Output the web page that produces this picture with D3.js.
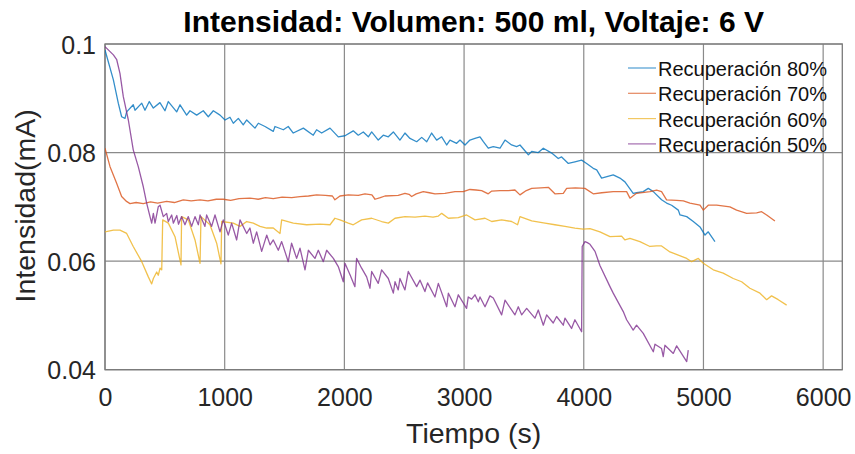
<!DOCTYPE html>
<html>
<head>
<meta charset="utf-8">
<script src="https://cdn.jsdelivr.net/npm/d3@7"></script>
<style>
  html, body { margin: 0; padding: 0; background: #fff; }
  svg { display: block; }
  text { font-family: "Liberation Sans", Arial, Helvetica, sans-serif; }
</style>
</head>
<body>
<svg id="chart" width="855" height="454"></svg>
<script>
// ---------------- DATA ----------------
const title = "Intensidad: Volumen: 500 ml, Voltaje: 6 V";
const xLabel = "Tiempo (s)";
const yLabel = "Intensidad(mA)";
const seriesNames = ["Recuperación 80%", "Recuperación 70%", "Recuperación 60%", "Recuperación 50%"];
const xTicks = [0, 1000, 2000, 3000, 4000, 5000, 6000];
const xTickLabels = ["0", "1000", "2000", "3000", "4000", "5000", "6000"];
const yTicks = [0.04, 0.06, 0.08, 0.1];
const yTickLabels = ["0.04", "0.06", "0.08", "0.1"];

// Recuperación 80%
const t80 = [0,70,111,139,167,181,236,251,307,334,370,404,459,501,529,599,627,682,710,766,821,863,905,961,1003,1044,1072,1114,1155,1184,1253,1281,1337,1406,1420,1490,1531,1573,1657,1740,1768,1810,1880,1949,2005,2074,2116,2158,2200,2228,2283,2325,2367,2409,2464,2506,2548,2604,2646,2688,2729,2771,2813,2855,2882,2938,2966,3008,3049,3091,3133,3161,3202,3244,3300,3342,3397,3439,3467,3537,3565,3620,3662,3732,3787,3815,3871,3926,3982,4024,4079,4108,4149,4246,4302,4344,4413,4441,4497,4539,4581,4650,4692,4734,4790,4804,4860,4915,4971,5013,5040,5096];
const v80 = [0.0989,0.0934,0.0891,0.0866,0.0863,0.0875,0.0888,0.0878,0.0891,0.0878,0.0894,0.0882,0.0892,0.0877,0.0894,0.0875,0.0888,0.0869,0.0877,0.0869,0.0877,0.0866,0.0877,0.0869,0.0860,0.0865,0.0854,0.0863,0.0851,0.0860,0.0845,0.0854,0.0848,0.0839,0.0848,0.0842,0.0848,0.0836,0.0845,0.0832,0.0842,0.0836,0.0845,0.0829,0.0831,0.0840,0.0832,0.0838,0.0829,0.0838,0.0823,0.0832,0.0829,0.0838,0.0823,0.0836,0.0826,0.0820,0.0828,0.0820,0.0836,0.0823,0.0829,0.0814,0.0823,0.0817,0.0823,0.0814,0.0823,0.0826,0.0829,0.0820,0.0808,0.0811,0.0808,0.0823,0.0814,0.0811,0.0814,0.0796,0.0802,0.0800,0.0808,0.0799,0.0789,0.0792,0.0780,0.0783,0.0786,0.0780,0.0771,0.0768,0.0753,0.0759,0.0753,0.0746,0.0725,0.0726,0.0728,0.0734,0.0728,0.0713,0.0707,0.0703,0.0694,0.0685,0.0682,0.0673,0.0663,0.0648,0.0654,0.0636];

// Recuperación 70%
const t70 = [0,42,98,139,180,209,260,320,380,440,515,580,654,720,794,860,930,988,1050,1120,1211,1280,1340,1406,1480,1560,1629,1700,1768,1840,1900,1921,1963,2033,2116,2172,2230,2256,2300,2339,2450,2506,2540,2562,2600,2659,2710,2757,2840,2924,2993,3049,3100,3147,3202,3231,3300,3370,3425,3467,3520,3565,3640,3704,3759,3829,3857,3930,4010,4079,4150,4246,4358,4386,4441,4553,4609,4650,4692,4776,4832,4887,4971,4999,5040,5110,5221,5277,5361,5444,5486,5528,5597];
const v70 = [0.0808,0.0774,0.0743,0.0719,0.0710,0.0706,0.0708,0.0706,0.0709,0.0707,0.0710,0.0708,0.0713,0.0711,0.0713,0.0711,0.0714,0.0714,0.0712,0.0715,0.0716,0.0714,0.0717,0.0715,0.0718,0.0717,0.0719,0.0720,0.0722,0.0721,0.0720,0.0713,0.0720,0.0722,0.0721,0.0724,0.0722,0.0714,0.0717,0.0720,0.0721,0.0725,0.0723,0.0719,0.0724,0.0728,0.0726,0.0724,0.0725,0.0728,0.0728,0.0732,0.0731,0.0730,0.0724,0.0729,0.0730,0.0730,0.0731,0.0722,0.0730,0.0734,0.0735,0.0736,0.0724,0.0725,0.0734,0.0735,0.0734,0.0724,0.0726,0.0728,0.0728,0.0716,0.0725,0.0728,0.0731,0.0728,0.0713,0.0712,0.0711,0.0707,0.0703,0.0694,0.0703,0.0703,0.0700,0.0694,0.0688,0.0689,0.0691,0.0685,0.0674];

// Recuperación 60%
const t60 = [0,70,125,181,236,307,362,390,404,432,445,460,474,482,529,585,635,640,696,752,794,802,877,933,969,975,1072,1128,1184,1239,1295,1351,1406,1462,1476,1573,1685,1796,1880,1921,1963,2033,2074,2144,2228,2311,2367,2423,2506,2590,2673,2740,2785,2813,2869,2952,3021,3091,3175,3231,3314,3397,3447,3467,3565,3676,3759,3843,3926,3996,4052,4135,4219,4316,4344,4386,4469,4553,4609,4650,4720,4790,4860,4901,4957,4999,5082,5165,5249,5319,5388,5472,5528,5569,5625,5695];
const v60 = [0.0654,0.0657,0.0657,0.0651,0.0627,0.0599,0.0571,0.0558,0.0568,0.0580,0.0574,0.0587,0.0584,0.0676,0.0670,0.0645,0.0593,0.0682,0.0676,0.0639,0.0596,0.0682,0.0667,0.0633,0.0595,0.0673,0.0670,0.0664,0.0673,0.0670,0.0664,0.0661,0.0661,0.0651,0.0676,0.0670,0.0667,0.0668,0.0667,0.0679,0.0676,0.0670,0.0667,0.0676,0.0679,0.0673,0.0670,0.0679,0.0682,0.0681,0.0683,0.0681,0.0683,0.0688,0.0679,0.0680,0.0685,0.0676,0.0679,0.0673,0.0676,0.0673,0.0667,0.0682,0.0674,0.0670,0.0667,0.0664,0.0661,0.0659,0.0660,0.0654,0.0645,0.0646,0.0639,0.0642,0.0636,0.0627,0.0628,0.0628,0.0617,0.0611,0.0605,0.0599,0.0605,0.0596,0.0584,0.0578,0.0568,0.0562,0.0550,0.0541,0.0529,0.0536,0.0529,0.0519];

// Recuperación 50%
const t50 = [0,70,98,125,153,195,236,278,320,348,376,390,404,418,445,460,487,515,529,557,571,600,614,640,668,696,724,752,780,794,835,849,891,919,961,988,1030,1058,1100,1128,1184,1211,1239,1267,1309,1351,1379,1406,1448,1476,1531,1559,1601,1629,1671,1699,1754,1782,1824,1852,1908,1949,1991,2005,2047,2088,2102,2144,2186,2214,2228,2283,2311,2367,2409,2423,2450,2464,2506,2534,2604,2632,2673,2695,2757,2785,2855,2869,2924,2952,3021,3035,3063,3091,3119,3133,3175,3216,3244,3314,3342,3425,3453,3481,3523,3592,3620,3662,3690,3745,3773,3829,3843,3898,3926,3982,3987,4010,4030,4052,4094,4135,4219,4246,4330,4358,4413,4441,4497,4581,4595,4650,4664,4678,4748,4776,4860,4873];
const v50 = [0.0995,0.0980,0.0971,0.0946,0.0903,0.0860,0.0805,0.0774,0.0737,0.0707,0.0682,0.0670,0.0688,0.0670,0.0700,0.0703,0.0682,0.0688,0.0673,0.0685,0.0670,0.0684,0.0668,0.0682,0.0667,0.0682,0.0664,0.0682,0.0667,0.0685,0.0664,0.0685,0.0664,0.0685,0.0654,0.0676,0.0648,0.0670,0.0639,0.0676,0.0651,0.0661,0.0633,0.0654,0.0618,0.0648,0.0630,0.0639,0.0620,0.0636,0.0599,0.0633,0.0605,0.0624,0.0584,0.0620,0.0605,0.0620,0.0599,0.0620,0.0605,0.0590,0.0562,0.0596,0.0575,0.0553,0.0605,0.0587,0.0571,0.0550,0.0581,0.0559,0.0584,0.0568,0.0541,0.0562,0.0547,0.0568,0.0547,0.0581,0.0553,0.0565,0.0544,0.0560,0.0534,0.0559,0.0516,0.0541,0.0516,0.0538,0.0513,0.0534,0.0530,0.0538,0.0525,0.0534,0.0516,0.0536,0.0532,0.0501,0.0528,0.0501,0.0516,0.0501,0.0513,0.0495,0.0510,0.0482,0.0501,0.0486,0.0498,0.0482,0.0495,0.0476,0.0492,0.0470,0.0627,0.0636,0.0634,0.0631,0.0618,0.0592,0.0553,0.0541,0.0507,0.0492,0.0473,0.0482,0.0467,0.0433,0.0447,0.0439,0.0424,0.0445,0.0430,0.0444,0.0415,0.0436];

const seriesT = [t80, t70, t60, t50];
const seriesV = [v80, v70, v60, v50];
const colors = ["#0072BD", "#D95319", "#EDB120", "#7E2F8E"];

// ---------------- CHART ----------------
const svg = d3.select("#chart");
const plot = { left: 105, right: 842.3, top: 44, bottom: 369.7 };
const x = d3.scaleLinear().domain([0, 6160]).range([plot.left, plot.right]);
const y = d3.scaleLinear().domain([0.04, 0.1]).range([plot.bottom, plot.top]);

// grid
const grid = svg.append("g").attr("class", "grid");
grid.selectAll("line.vg").data(xTicks).join("line")
  .attr("x1", d => x(d)).attr("x2", d => x(d))
  .attr("y1", plot.top).attr("y2", plot.bottom)
  .attr("stroke", "#8a8a8a").attr("stroke-width", 1.2);
grid.selectAll("line.hg").data(yTicks).join("line")
  .attr("y1", d => y(d)).attr("y2", d => y(d))
  .attr("x1", plot.left).attr("x2", plot.right)
  .attr("stroke", "#8a8a8a").attr("stroke-width", 1.2);

// box
svg.append("rect")
  .attr("x", plot.left).attr("y", plot.top)
  .attr("width", plot.right - plot.left).attr("height", plot.bottom - plot.top)
  .attr("fill", "none").attr("stroke", "#7a7a7a").attr("stroke-width", 1.3);

// axes (labels only)
const xAxis = d3.axisBottom(x).tickValues(xTicks).tickSize(0).tickPadding(0)
  .tickFormat((d, i) => xTickLabels[i]);
const gx = svg.append("g").attr("transform", `translate(0,${plot.bottom})`).call(xAxis);
gx.select(".domain").remove();
gx.selectAll("text").attr("font-size", 25).attr("fill", "#262626")
  .attr("dy", null).attr("y", 36.5)
  .attr("font-family", "'Liberation Sans', Arial, sans-serif");

const yAxis = d3.axisLeft(y).tickValues(yTicks).tickSize(0).tickPadding(9)
  .tickFormat((d, i) => yTickLabels[i]);
const gy = svg.append("g").attr("transform", `translate(${plot.left},0)`).call(yAxis);
gy.select(".domain").remove();
gy.selectAll("text").attr("font-size", 25).attr("fill", "#262626")
  .attr("dy", "0.36em")
  .attr("font-family", "'Liberation Sans', Arial, sans-serif");

// lines
const clipId = "clip";
svg.append("clipPath").attr("id", clipId).append("rect")
  .attr("x", plot.left).attr("y", plot.top)
  .attr("width", plot.right - plot.left).attr("height", plot.bottom - plot.top);

const line = d3.line().x(d => x(d[0])).y(d => y(d[1]));
const linesG = svg.append("g").attr("clip-path", `url(#${clipId})`);
seriesT.forEach((ts, k) => {
  const pts = ts.map((t, i) => [t, seriesV[k][i]]);
  linesG.append("path").datum(pts)
    .attr("d", line)
    .attr("fill", "none")
    .attr("stroke", colors[k])
    .attr("stroke-opacity", 0.8)
    .attr("stroke-width", 1.3)
    .attr("stroke-linejoin", "round");
});

// title
svg.append("text")
  .attr("x", (plot.left + plot.right) / 2).attr("y", 31.5)
  .attr("text-anchor", "middle")
  .attr("font-size", 30).attr("font-weight", "bold").attr("fill", "#000")
  .text(title);

// axis labels
svg.append("text")
  .attr("x", (plot.left + plot.right) / 2).attr("y", 443)
  .attr("text-anchor", "middle")
  .attr("font-size", 28.5).attr("fill", "#262626")
  .text(xLabel);

svg.append("text")
  .attr("transform", `translate(35,${(101.7 + 310) / 2}) rotate(-90)`)
  .attr("text-anchor", "middle")
  .attr("font-size", 28.5).attr("fill", "#262626")
  .text(yLabel);

// legend
const legend = svg.append("g");
seriesNames.forEach((name, i) => {
  const by = 76 + i * 25.3;
  legend.append("line")
    .attr("x1", 628).attr("x2", 656)
    .attr("y1", by - 8).attr("y2", by - 8)
    .attr("stroke", colors[i]).attr("stroke-opacity", 0.7).attr("stroke-width", 1.2);
  legend.append("text")
    .attr("x", 658).attr("y", by)
    .attr("font-size", 20).attr("fill", "#111")
    .text(name);
});
</script>
</body>
</html>
